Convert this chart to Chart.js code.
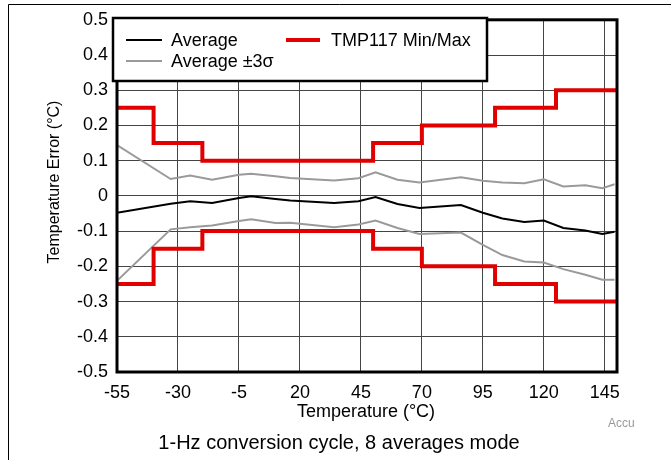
<!DOCTYPE html>
<html>
<head>
<meta charset="utf-8">
<script src="https://cdn.jsdelivr.net/npm/chart.js@4"></script>
<style>
  html, body { margin: 0; padding: 0; background: #fff; }
  #wrap { position: relative; width: 671px; height: 460px; }
  canvas { display: block; }
</style>
</head>
<body>
<div id="wrap"><canvas id="accChart" width="671" height="460"></canvas></div>
<script>
// temperatures (°C) where the measured curves were sampled
const temps = [-55, -33, -25, -16, -5, 0, 10, 16, 34, 44, 51, 60, 69, 86, 95, 103, 112, 120, 128, 137, 144, 149];
// measured average error and average ±3 sigma
const average = [-0.048, -0.022, -0.015, -0.020, -0.006, -0.001, -0.009, -0.013, -0.020, -0.015, -0.003, -0.023, -0.034, -0.026, -0.048, -0.064, -0.074, -0.070, -0.091, -0.098, -0.108, -0.102];
const avgPlus3s = [0.144, 0.048, 0.058, 0.046, 0.060, 0.063, 0.056, 0.051, 0.044, 0.050, 0.067, 0.046, 0.038, 0.053, 0.043, 0.038, 0.036, 0.047, 0.027, 0.030, 0.022, 0.033];
const avgMinus3s = [-0.241, -0.095, -0.089, -0.084, -0.071, -0.066, -0.077, -0.076, -0.089, -0.081, -0.070, -0.091, -0.108, -0.104, -0.139, -0.168, -0.186, -0.189, -0.208, -0.224, -0.238, -0.238];
// datasheet min/max limits (step edges)
const limitTemps = [-55, -40, -20, 50, 70, 100, 125, 150];
const limitMax = [0.25, 0.15, 0.1, 0.15, 0.2, 0.25, 0.3, 0.3];
const limitMin = [-0.25, -0.15, -0.1, -0.15, -0.2, -0.25, -0.3, -0.3];
// axis ticks
const xTicks = [-55, -30, -5, 20, 45, 70, 95, 120, 145];
const yTicks = [-0.5, -0.4, -0.3, -0.2, -0.1, 0, 0.1, 0.2, 0.3, 0.4, 0.5];

const FONT = '"Liberation Sans", Arial, sans-serif';
const RED = '#e00000';
const GRAY = '#9a9a9a';

const toPts = (xs, ys) => xs.map((x, i) => ({ x: x, y: ys[i] }));

// frame, plot border, legend box and free texts
const decorations = {
    id: 'decorations',
    afterDraw(chart) {
        const ctx = chart.ctx;
        const a = chart.chartArea;
        ctx.save();

        // outer frame (top and left edges visible)
        ctx.strokeStyle = '#000';
        ctx.lineWidth = 1;
        ctx.beginPath();
        ctx.moveTo(8.5, 460);
        ctx.lineTo(8.5, 4.5);
        ctx.lineTo(671, 4.5);
        ctx.stroke();

        // thick plot border
        ctx.lineWidth = 3;
        ctx.strokeRect(a.left, a.top, a.right - a.left, a.bottom - a.top);

        // legend box
        ctx.fillStyle = '#fff';
        ctx.fillRect(113, 18, 374, 63);
        ctx.lineWidth = 2.5;
        ctx.strokeRect(113, 18, 374, 63);

        ctx.lineWidth = 2;
        ctx.strokeStyle = '#000';
        ctx.beginPath(); ctx.moveTo(126, 40); ctx.lineTo(162, 40); ctx.stroke();
        ctx.strokeStyle = GRAY;
        ctx.beginPath(); ctx.moveTo(126, 61); ctx.lineTo(162, 61); ctx.stroke();
        ctx.strokeStyle = RED;
        ctx.lineWidth = 4;
        ctx.beginPath(); ctx.moveTo(286, 40); ctx.lineTo(320, 40); ctx.stroke();

        ctx.fillStyle = '#000';
        ctx.font = '18px ' + FONT;
        ctx.textBaseline = 'middle';
        ctx.textAlign = 'left';
        ctx.fillText('Average', 171, 41);
        ctx.fillText('Average \u00b13\u03c3', 171, 62);
        ctx.fillText('TMP117 Min/Max', 331, 41);

        // axis titles
        ctx.textAlign = 'center';
        ctx.fillText('Temperature (\u00b0C)', 366, 412);
        ctx.save();
        ctx.translate(55, 182);
        ctx.rotate(-Math.PI / 2);
        ctx.font = '16px ' + FONT;
        ctx.fillText('Temperature Error (\u00b0C)', 0, 0);
        ctx.restore();

        // caption
        ctx.font = '20px ' + FONT;
        ctx.fillText('1-Hz conversion cycle, 8 averages mode', 339, 443);

        ctx.font = '12px ' + FONT;
        ctx.fillStyle = '#999';
        ctx.textAlign = 'left';
        ctx.fillText('Accu', 608, 424);

        ctx.restore();
    }
};

const chart = new Chart(document.getElementById('accChart').getContext('2d'), {
    type: 'scatter',
    data: {
        datasets: [
            {
                label: 'TMP117 Max',
                data: toPts(limitTemps, limitMax),
                showLine: true, stepped: 'before',
                borderColor: RED, borderWidth: 4, pointRadius: 0
            },
            {
                label: 'TMP117 Min',
                data: toPts(limitTemps, limitMin),
                showLine: true, stepped: 'before',
                borderColor: RED, borderWidth: 4, pointRadius: 0
            },
            {
                label: 'Average',
                data: toPts(temps, average),
                showLine: true,
                borderColor: '#000', borderWidth: 2, pointRadius: 0
            },
            {
                label: 'Average +3s',
                data: toPts(temps, avgPlus3s),
                showLine: true,
                borderColor: GRAY, borderWidth: 2, pointRadius: 0
            },
            {
                label: 'Average -3s',
                data: toPts(temps, avgMinus3s),
                showLine: true,
                borderColor: GRAY, borderWidth: 2, pointRadius: 0
            }
        ]
    },
    options: {
        responsive: false,
        animation: false,
        events: [],
        layout: { padding: { top: 17, right: 54, left: 0, bottom: 0 } },
        plugins: {
            legend: { display: false },
            tooltip: { enabled: false }
        },
        scales: {
            x: {
                type: 'linear',
                min: -55, max: 150,
                afterBuildTicks: (s) => { s.ticks = xTicks.map(v => ({ value: v })); },
                afterFit: (s) => { s.height = 88; },
                grid: { color: '#444', lineWidth: 1, drawTicks: false },
                border: { display: false },
                ticks: {
                    padding: 10,
                    color: '#000',
                    font: { family: FONT, size: 18 },
                    maxRotation: 0,
                    callback: (v) => String(v)
                }
            },
            y: {
                type: 'linear',
                min: -0.5, max: 0.5,
                afterBuildTicks: (s) => { s.ticks = yTicks.map(v => ({ value: v })); },
                afterFit: (s) => { s.width = 117; },
                grid: { color: '#444', lineWidth: 1, drawTicks: false },
                border: { display: false },
                ticks: {
                    padding: 9,
                    color: '#000',
                    font: { family: FONT, size: 18 },
                    callback: (v) => v === 0 ? '0' : v.toFixed(1)
                }
            }
        }
    },
    plugins: [decorations]
});
</script>
</body>
</html>
